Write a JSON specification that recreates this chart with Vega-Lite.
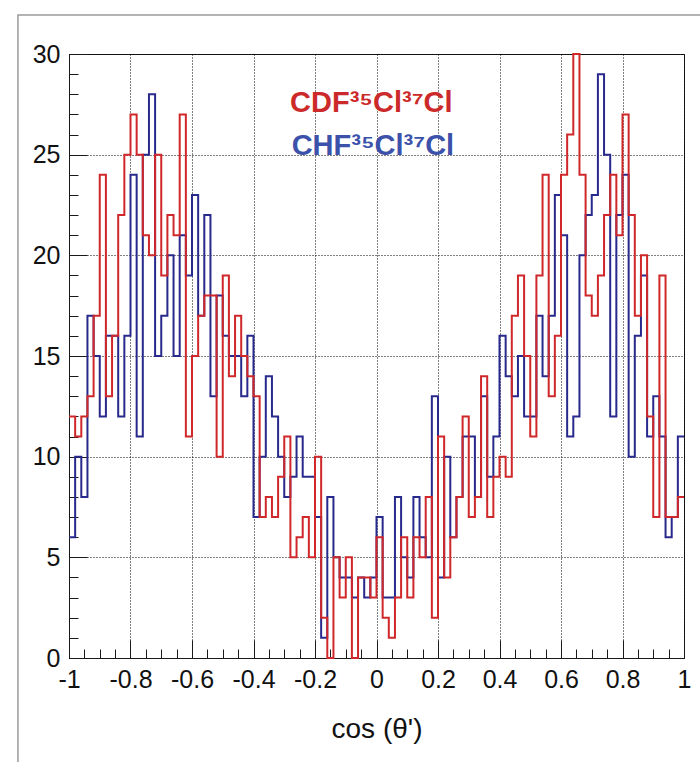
{
  "$schema": "https://vega.github.io/schema/vega-lite/v6.json",
  "width": 615,
  "height": 604,
  "autosize": {"type": "none"},
  "padding": {"left": 69, "top": 54, "right": 16, "bottom": 104},
  "background": "white",
  "config": {
    "view": {"stroke": "#1a1a1a", "strokeWidth": 1},
    "font": "Liberation Sans",
    "axis": {
      "grid": true,
      "gridDash": [1, 2],
      "gridColor": "#000000",
      "gridWidth": 1,
      "labelPadding": 27,
      "labelFont": "Liberation Sans",
      "labelFontSize": 25,
      "labelColor": "#111111",
      "labelFlush": false,
      "labelOverlap": false,
      "labelBound": false,
      "domainColor": "#1a1a1a",
      "tickColor": "#1a1a1a",
      "tickWidth": 1,
      "titleFont": "Liberation Sans",
      "titleFontSize": 28,
      "titleFontWeight": "normal",
      "titleColor": "#111111",
      "titlePadding": 14
    }
  },
  "datasets": {
    "hist": [
      {"lo": -1, "hi": -0.98, "CDF": 12, "CHF": 6},
      {"lo": -0.98, "hi": -0.96, "CDF": 11, "CHF": 10},
      {"lo": -0.96, "hi": -0.94, "CDF": 12, "CHF": 8},
      {"lo": -0.94, "hi": -0.92, "CDF": 13, "CHF": 17},
      {"lo": -0.92, "hi": -0.9, "CDF": 17, "CHF": 15},
      {"lo": -0.9, "hi": -0.88, "CDF": 24, "CHF": 12},
      {"lo": -0.88, "hi": -0.86, "CDF": 13, "CHF": 16},
      {"lo": -0.86, "hi": -0.84, "CDF": 16, "CHF": 16},
      {"lo": -0.84, "hi": -0.82, "CDF": 22, "CHF": 12},
      {"lo": -0.82, "hi": -0.8, "CDF": 25, "CHF": 16},
      {"lo": -0.8, "hi": -0.78, "CDF": 27, "CHF": 24},
      {"lo": -0.78, "hi": -0.76, "CDF": 25, "CHF": 11},
      {"lo": -0.76, "hi": -0.74, "CDF": 21, "CHF": 25},
      {"lo": -0.74, "hi": -0.72, "CDF": 20, "CHF": 28},
      {"lo": -0.72, "hi": -0.7, "CDF": 25, "CHF": 15},
      {"lo": -0.7, "hi": -0.68, "CDF": 19, "CHF": 17},
      {"lo": -0.68, "hi": -0.66, "CDF": 22, "CHF": 20},
      {"lo": -0.66, "hi": -0.64, "CDF": 21, "CHF": 15},
      {"lo": -0.64, "hi": -0.62, "CDF": 27, "CHF": 21},
      {"lo": -0.62, "hi": -0.6, "CDF": 11, "CHF": 19},
      {"lo": -0.6, "hi": -0.58, "CDF": 15, "CHF": 23},
      {"lo": -0.58, "hi": -0.56, "CDF": 17, "CHF": 17},
      {"lo": -0.56, "hi": -0.54, "CDF": 18, "CHF": 22},
      {"lo": -0.54, "hi": -0.52, "CDF": 18, "CHF": 13},
      {"lo": -0.52, "hi": -0.5, "CDF": 10, "CHF": 18},
      {"lo": -0.5, "hi": -0.48, "CDF": 19, "CHF": 16},
      {"lo": -0.48, "hi": -0.46, "CDF": 14, "CHF": 15},
      {"lo": -0.46, "hi": -0.44, "CDF": 17, "CHF": 15},
      {"lo": -0.44, "hi": -0.42, "CDF": 15, "CHF": 13},
      {"lo": -0.42, "hi": -0.4, "CDF": 14, "CHF": 16},
      {"lo": -0.4, "hi": -0.38, "CDF": 13, "CHF": 7},
      {"lo": -0.38, "hi": -0.36, "CDF": 7, "CHF": 10},
      {"lo": -0.36, "hi": -0.34, "CDF": 8, "CHF": 14},
      {"lo": -0.34, "hi": -0.32, "CDF": 7, "CHF": 12},
      {"lo": -0.32, "hi": -0.3, "CDF": 9, "CHF": 10},
      {"lo": -0.3, "hi": -0.28, "CDF": 11, "CHF": 8},
      {"lo": -0.28, "hi": -0.26, "CDF": 5, "CHF": 9},
      {"lo": -0.26, "hi": -0.24, "CDF": 6, "CHF": 11},
      {"lo": -0.24, "hi": -0.22, "CDF": 7, "CHF": 9},
      {"lo": -0.22, "hi": -0.2, "CDF": 5, "CHF": 9},
      {"lo": -0.2, "hi": -0.18, "CDF": 10, "CHF": 7},
      {"lo": -0.18, "hi": -0.16, "CDF": 2, "CHF": 1},
      {"lo": -0.16, "hi": -0.14, "CDF": 0, "CHF": 8},
      {"lo": -0.14, "hi": -0.12, "CDF": 5, "CHF": 5},
      {"lo": -0.12, "hi": -0.1, "CDF": 3, "CHF": 4},
      {"lo": -0.1, "hi": -0.08, "CDF": 5, "CHF": 4},
      {"lo": -0.08, "hi": -0.06, "CDF": 0, "CHF": 3},
      {"lo": -0.06, "hi": -0.04, "CDF": 4, "CHF": 4},
      {"lo": -0.04, "hi": -0.02, "CDF": 4, "CHF": 3},
      {"lo": -0.02, "hi": 0, "CDF": 3, "CHF": 4},
      {"lo": 0, "hi": 0.02, "CDF": 6, "CHF": 7},
      {"lo": 0.02, "hi": 0.04, "CDF": 2, "CHF": 3},
      {"lo": 0.04, "hi": 0.06, "CDF": 1, "CHF": 3},
      {"lo": 0.06, "hi": 0.08, "CDF": 3, "CHF": 8},
      {"lo": 0.08, "hi": 0.1, "CDF": 6, "CHF": 5},
      {"lo": 0.1, "hi": 0.12, "CDF": 3, "CHF": 4},
      {"lo": 0.12, "hi": 0.14, "CDF": 6, "CHF": 8},
      {"lo": 0.14, "hi": 0.16, "CDF": 5, "CHF": 6},
      {"lo": 0.16, "hi": 0.18, "CDF": 8, "CHF": 5},
      {"lo": 0.18, "hi": 0.2, "CDF": 2, "CHF": 13},
      {"lo": 0.2, "hi": 0.22, "CDF": 11, "CHF": 4},
      {"lo": 0.22, "hi": 0.24, "CDF": 4, "CHF": 10},
      {"lo": 0.24, "hi": 0.26, "CDF": 6, "CHF": 6},
      {"lo": 0.26, "hi": 0.28, "CDF": 8, "CHF": 8},
      {"lo": 0.28, "hi": 0.3, "CDF": 12, "CHF": 11},
      {"lo": 0.3, "hi": 0.32, "CDF": 7, "CHF": 11},
      {"lo": 0.32, "hi": 0.34, "CDF": 8, "CHF": 8},
      {"lo": 0.34, "hi": 0.36, "CDF": 14, "CHF": 13},
      {"lo": 0.36, "hi": 0.38, "CDF": 7, "CHF": 9},
      {"lo": 0.38, "hi": 0.4, "CDF": 9, "CHF": 11},
      {"lo": 0.4, "hi": 0.42, "CDF": 10, "CHF": 16},
      {"lo": 0.42, "hi": 0.44, "CDF": 9, "CHF": 14},
      {"lo": 0.44, "hi": 0.46, "CDF": 17, "CHF": 13},
      {"lo": 0.46, "hi": 0.48, "CDF": 19, "CHF": 15},
      {"lo": 0.48, "hi": 0.5, "CDF": 15, "CHF": 12},
      {"lo": 0.5, "hi": 0.52, "CDF": 11, "CHF": 12},
      {"lo": 0.52, "hi": 0.54, "CDF": 19, "CHF": 17},
      {"lo": 0.54, "hi": 0.56, "CDF": 24, "CHF": 14},
      {"lo": 0.56, "hi": 0.58, "CDF": 13, "CHF": 17},
      {"lo": 0.58, "hi": 0.6, "CDF": 16, "CHF": 23},
      {"lo": 0.6, "hi": 0.62, "CDF": 24, "CHF": 21},
      {"lo": 0.62, "hi": 0.64, "CDF": 26, "CHF": 11},
      {"lo": 0.64, "hi": 0.66, "CDF": 30, "CHF": 12},
      {"lo": 0.66, "hi": 0.68, "CDF": 24, "CHF": 20},
      {"lo": 0.68, "hi": 0.7, "CDF": 18, "CHF": 22},
      {"lo": 0.7, "hi": 0.72, "CDF": 17, "CHF": 23},
      {"lo": 0.72, "hi": 0.74, "CDF": 19, "CHF": 29},
      {"lo": 0.74, "hi": 0.76, "CDF": 22, "CHF": 25},
      {"lo": 0.76, "hi": 0.78, "CDF": 24, "CHF": 12},
      {"lo": 0.78, "hi": 0.8, "CDF": 21, "CHF": 22},
      {"lo": 0.8, "hi": 0.82, "CDF": 27, "CHF": 24},
      {"lo": 0.82, "hi": 0.84, "CDF": 22, "CHF": 10},
      {"lo": 0.84, "hi": 0.86, "CDF": 17, "CHF": 16},
      {"lo": 0.86, "hi": 0.88, "CDF": 20, "CHF": 19},
      {"lo": 0.88, "hi": 0.9, "CDF": 12, "CHF": 11},
      {"lo": 0.9, "hi": 0.92, "CDF": 7, "CHF": 13},
      {"lo": 0.92, "hi": 0.94, "CDF": 19, "CHF": 11},
      {"lo": 0.94, "hi": 0.96, "CDF": 7, "CHF": 6},
      {"lo": 0.96, "hi": 0.98, "CDF": 7, "CHF": 7},
      {"lo": 0.98, "hi": 1, "CDF": 8, "CHF": 11}
    ]
  },
  "layer": [
    {
      "data": {"values": [{}]},
      "mark": {"type": "rect", "fill": null, "fillOpacity": 0, "stroke": "#9a9a9a", "strokeWidth": 1.5, "clip": false},
      "encoding": {
        "x": {
          "datum": -1.166, "type": "quantitative",
          "scale": {"domain": [-1, 1], "nice": false, "zero": false},
          "axis": {
            "values": [-1, -0.95, -0.9, -0.85, -0.8, -0.75, -0.7, -0.65, -0.6, -0.55, -0.5, -0.45, -0.4, -0.35, -0.3, -0.25, -0.2, -0.15, -0.1, -0.05, 0, 0.05, 0.1, 0.15, 0.2, 0.25, 0.3, 0.35, 0.4, 0.45, 0.5, 0.55, 0.6, 0.65, 0.7, 0.75, 0.8, 0.85, 0.9, 0.95, 1],
            "labelExpr": "abs(datum.value*5 - round(datum.value*5)) < 0.001 ? '' + datum.value : ''",
            "tickSize": {"condition": {"test": "abs(datum.value*5 - round(datum.value*5)) < 0.001", "value": -18}, "value": -9},
            "gridOpacity": {"condition": {"test": "abs(datum.value*5 - round(datum.value*5)) < 0.001", "value": 1}, "value": 0},
            "title": "cos (θ')"
          }
        },
        "x2": {"datum": 1.3},
        "y": {
          "datum": 31.94, "type": "quantitative",
          "scale": {"domain": [0, 30], "nice": false, "zero": true},
          "axis": {
            "values": [0, 1, 2, 3, 4, 5, 6, 7, 8, 9, 10, 11, 12, 13, 14, 15, 16, 17, 18, 19, 20, 21, 22, 23, 24, 25, 26, 27, 28, 29, 30],
            "labelExpr": "datum.value % 5 === 0 ? '' + datum.value : ''",
            "tickSize": {"condition": {"test": "datum.value % 5 === 0", "value": -18}, "value": -9},
            "gridOpacity": {"condition": {"test": "datum.value % 5 === 0", "value": 1}, "value": 0},
            "title": null
          }
        },
        "y2": {"datum": -8}
      }
    },
    {
      "data": {"name": "hist"},
      "encoding": {
        "x": {
          "field": "xpos",
          "type": "quantitative",
          "scale": {"domain": [-1, 1], "nice": false, "zero": false},
          "axis": {
            "values": [-1, -0.95, -0.9, -0.85, -0.8, -0.75, -0.7, -0.65, -0.6, -0.55, -0.5, -0.45, -0.4, -0.35, -0.3, -0.25, -0.2, -0.15, -0.1, -0.05, 0, 0.05, 0.1, 0.15, 0.2, 0.25, 0.3, 0.35, 0.4, 0.45, 0.5, 0.55, 0.6, 0.65, 0.7, 0.75, 0.8, 0.85, 0.9, 0.95, 1],
            "labelExpr": "abs(datum.value*5 - round(datum.value*5)) < 0.001 ? '' + datum.value : ''",
            "tickSize": {"condition": {"test": "abs(datum.value*5 - round(datum.value*5)) < 0.001", "value": -18}, "value": -9},
            "gridOpacity": {"condition": {"test": "abs(datum.value*5 - round(datum.value*5)) < 0.001", "value": 1}, "value": 0},
            "title": "cos (θ')"
          }
        },
        "y": {
          "field": "count",
          "type": "quantitative",
          "scale": {"domain": [0, 30], "nice": false, "zero": true},
          "axis": {
            "values": [0, 1, 2, 3, 4, 5, 6, 7, 8, 9, 10, 11, 12, 13, 14, 15, 16, 17, 18, 19, 20, 21, 22, 23, 24, 25, 26, 27, 28, 29, 30],
            "labelExpr": "datum.value % 5 === 0 ? '' + datum.value : ''",
            "tickSize": {"condition": {"test": "datum.value % 5 === 0", "value": -18}, "value": -9},
            "gridOpacity": {"condition": {"test": "datum.value % 5 === 0", "value": 1}, "value": 0},
            "title": null
          }
        },
        "order": [{"field": "xpos", "type": "quantitative"}, {"field": "lo", "type": "quantitative"}]
      },
      "layer": [
        {
          "transform": [
            {"fold": ["CHF"], "as": ["series", "count"]},
            {"fold": ["lo", "hi"], "as": ["edge", "xpos"]}
          ],
          "mark": {"type": "line", "color": "#28298c", "strokeWidth": 2, "interpolate": "linear"}
        },
        {
          "transform": [
            {"fold": ["CDF"], "as": ["series", "count"]},
            {"fold": ["lo", "hi"], "as": ["edge", "xpos"]}
          ],
          "mark": {"type": "line", "color": "#d0282a", "strokeWidth": 2, "interpolate": "linear"}
        }
      ]
    },
    {
      "data": {"values": [{"label": "CDF³⁵Cl³⁷Cl", "series": "CDF"}, {"label": "CHF³⁵Cl³⁷Cl", "series": "CHF"}]},
      "transform": [{"filter": "datum.series === 'CDF'"}],
      "mark": {"type": "text", "align": "left", "baseline": "alphabetic", "font": "Liberation Sans", "fontWeight": "bold", "fontSize": 29, "color": "#cc2a2a"},
      "encoding": {
        "x": {
          "datum": -0.281, "type": "quantitative",
          "scale": {"domain": [-1, 1], "nice": false, "zero": false},
          "axis": {
            "values": [-1, -0.95, -0.9, -0.85, -0.8, -0.75, -0.7, -0.65, -0.6, -0.55, -0.5, -0.45, -0.4, -0.35, -0.3, -0.25, -0.2, -0.15, -0.1, -0.05, 0, 0.05, 0.1, 0.15, 0.2, 0.25, 0.3, 0.35, 0.4, 0.45, 0.5, 0.55, 0.6, 0.65, 0.7, 0.75, 0.8, 0.85, 0.9, 0.95, 1],
            "labelExpr": "abs(datum.value*5 - round(datum.value*5)) < 0.001 ? '' + datum.value : ''",
            "tickSize": {"condition": {"test": "abs(datum.value*5 - round(datum.value*5)) < 0.001", "value": -18}, "value": -9},
            "gridOpacity": {"condition": {"test": "abs(datum.value*5 - round(datum.value*5)) < 0.001", "value": 1}, "value": 0},
            "title": "cos (θ')"
          }
        },
        "y": {
          "datum": 27.1, "type": "quantitative",
          "scale": {"domain": [0, 30], "nice": false, "zero": true},
          "axis": {
            "values": [0, 1, 2, 3, 4, 5, 6, 7, 8, 9, 10, 11, 12, 13, 14, 15, 16, 17, 18, 19, 20, 21, 22, 23, 24, 25, 26, 27, 28, 29, 30],
            "labelExpr": "datum.value % 5 === 0 ? '' + datum.value : ''",
            "tickSize": {"condition": {"test": "datum.value % 5 === 0", "value": -18}, "value": -9},
            "gridOpacity": {"condition": {"test": "datum.value % 5 === 0", "value": 1}, "value": 0},
            "title": null
          }
        },
        "text": {"field": "label"}
      }
    },
    {
      "data": {"values": [{"label": "CDF³⁵Cl³⁷Cl", "series": "CDF"}, {"label": "CHF³⁵Cl³⁷Cl", "series": "CHF"}]},
      "transform": [{"filter": "datum.series === 'CHF'"}],
      "mark": {"type": "text", "align": "left", "baseline": "alphabetic", "font": "Liberation Sans", "fontWeight": "bold", "fontSize": 29, "color": "#3c52aa"},
      "encoding": {
        "x": {
          "datum": -0.276, "type": "quantitative",
          "scale": {"domain": [-1, 1], "nice": false, "zero": false},
          "axis": {
            "values": [-1, -0.95, -0.9, -0.85, -0.8, -0.75, -0.7, -0.65, -0.6, -0.55, -0.5, -0.45, -0.4, -0.35, -0.3, -0.25, -0.2, -0.15, -0.1, -0.05, 0, 0.05, 0.1, 0.15, 0.2, 0.25, 0.3, 0.35, 0.4, 0.45, 0.5, 0.55, 0.6, 0.65, 0.7, 0.75, 0.8, 0.85, 0.9, 0.95, 1],
            "labelExpr": "abs(datum.value*5 - round(datum.value*5)) < 0.001 ? '' + datum.value : ''",
            "tickSize": {"condition": {"test": "abs(datum.value*5 - round(datum.value*5)) < 0.001", "value": -18}, "value": -9},
            "gridOpacity": {"condition": {"test": "abs(datum.value*5 - round(datum.value*5)) < 0.001", "value": 1}, "value": 0},
            "title": "cos (θ')"
          }
        },
        "y": {
          "datum": 25.0, "type": "quantitative",
          "scale": {"domain": [0, 30], "nice": false, "zero": true},
          "axis": {
            "values": [0, 1, 2, 3, 4, 5, 6, 7, 8, 9, 10, 11, 12, 13, 14, 15, 16, 17, 18, 19, 20, 21, 22, 23, 24, 25, 26, 27, 28, 29, 30],
            "labelExpr": "datum.value % 5 === 0 ? '' + datum.value : ''",
            "tickSize": {"condition": {"test": "datum.value % 5 === 0", "value": -18}, "value": -9},
            "gridOpacity": {"condition": {"test": "datum.value % 5 === 0", "value": 1}, "value": 0},
            "title": null
          }
        },
        "text": {"field": "label"}
      }
    }
  ]
}
